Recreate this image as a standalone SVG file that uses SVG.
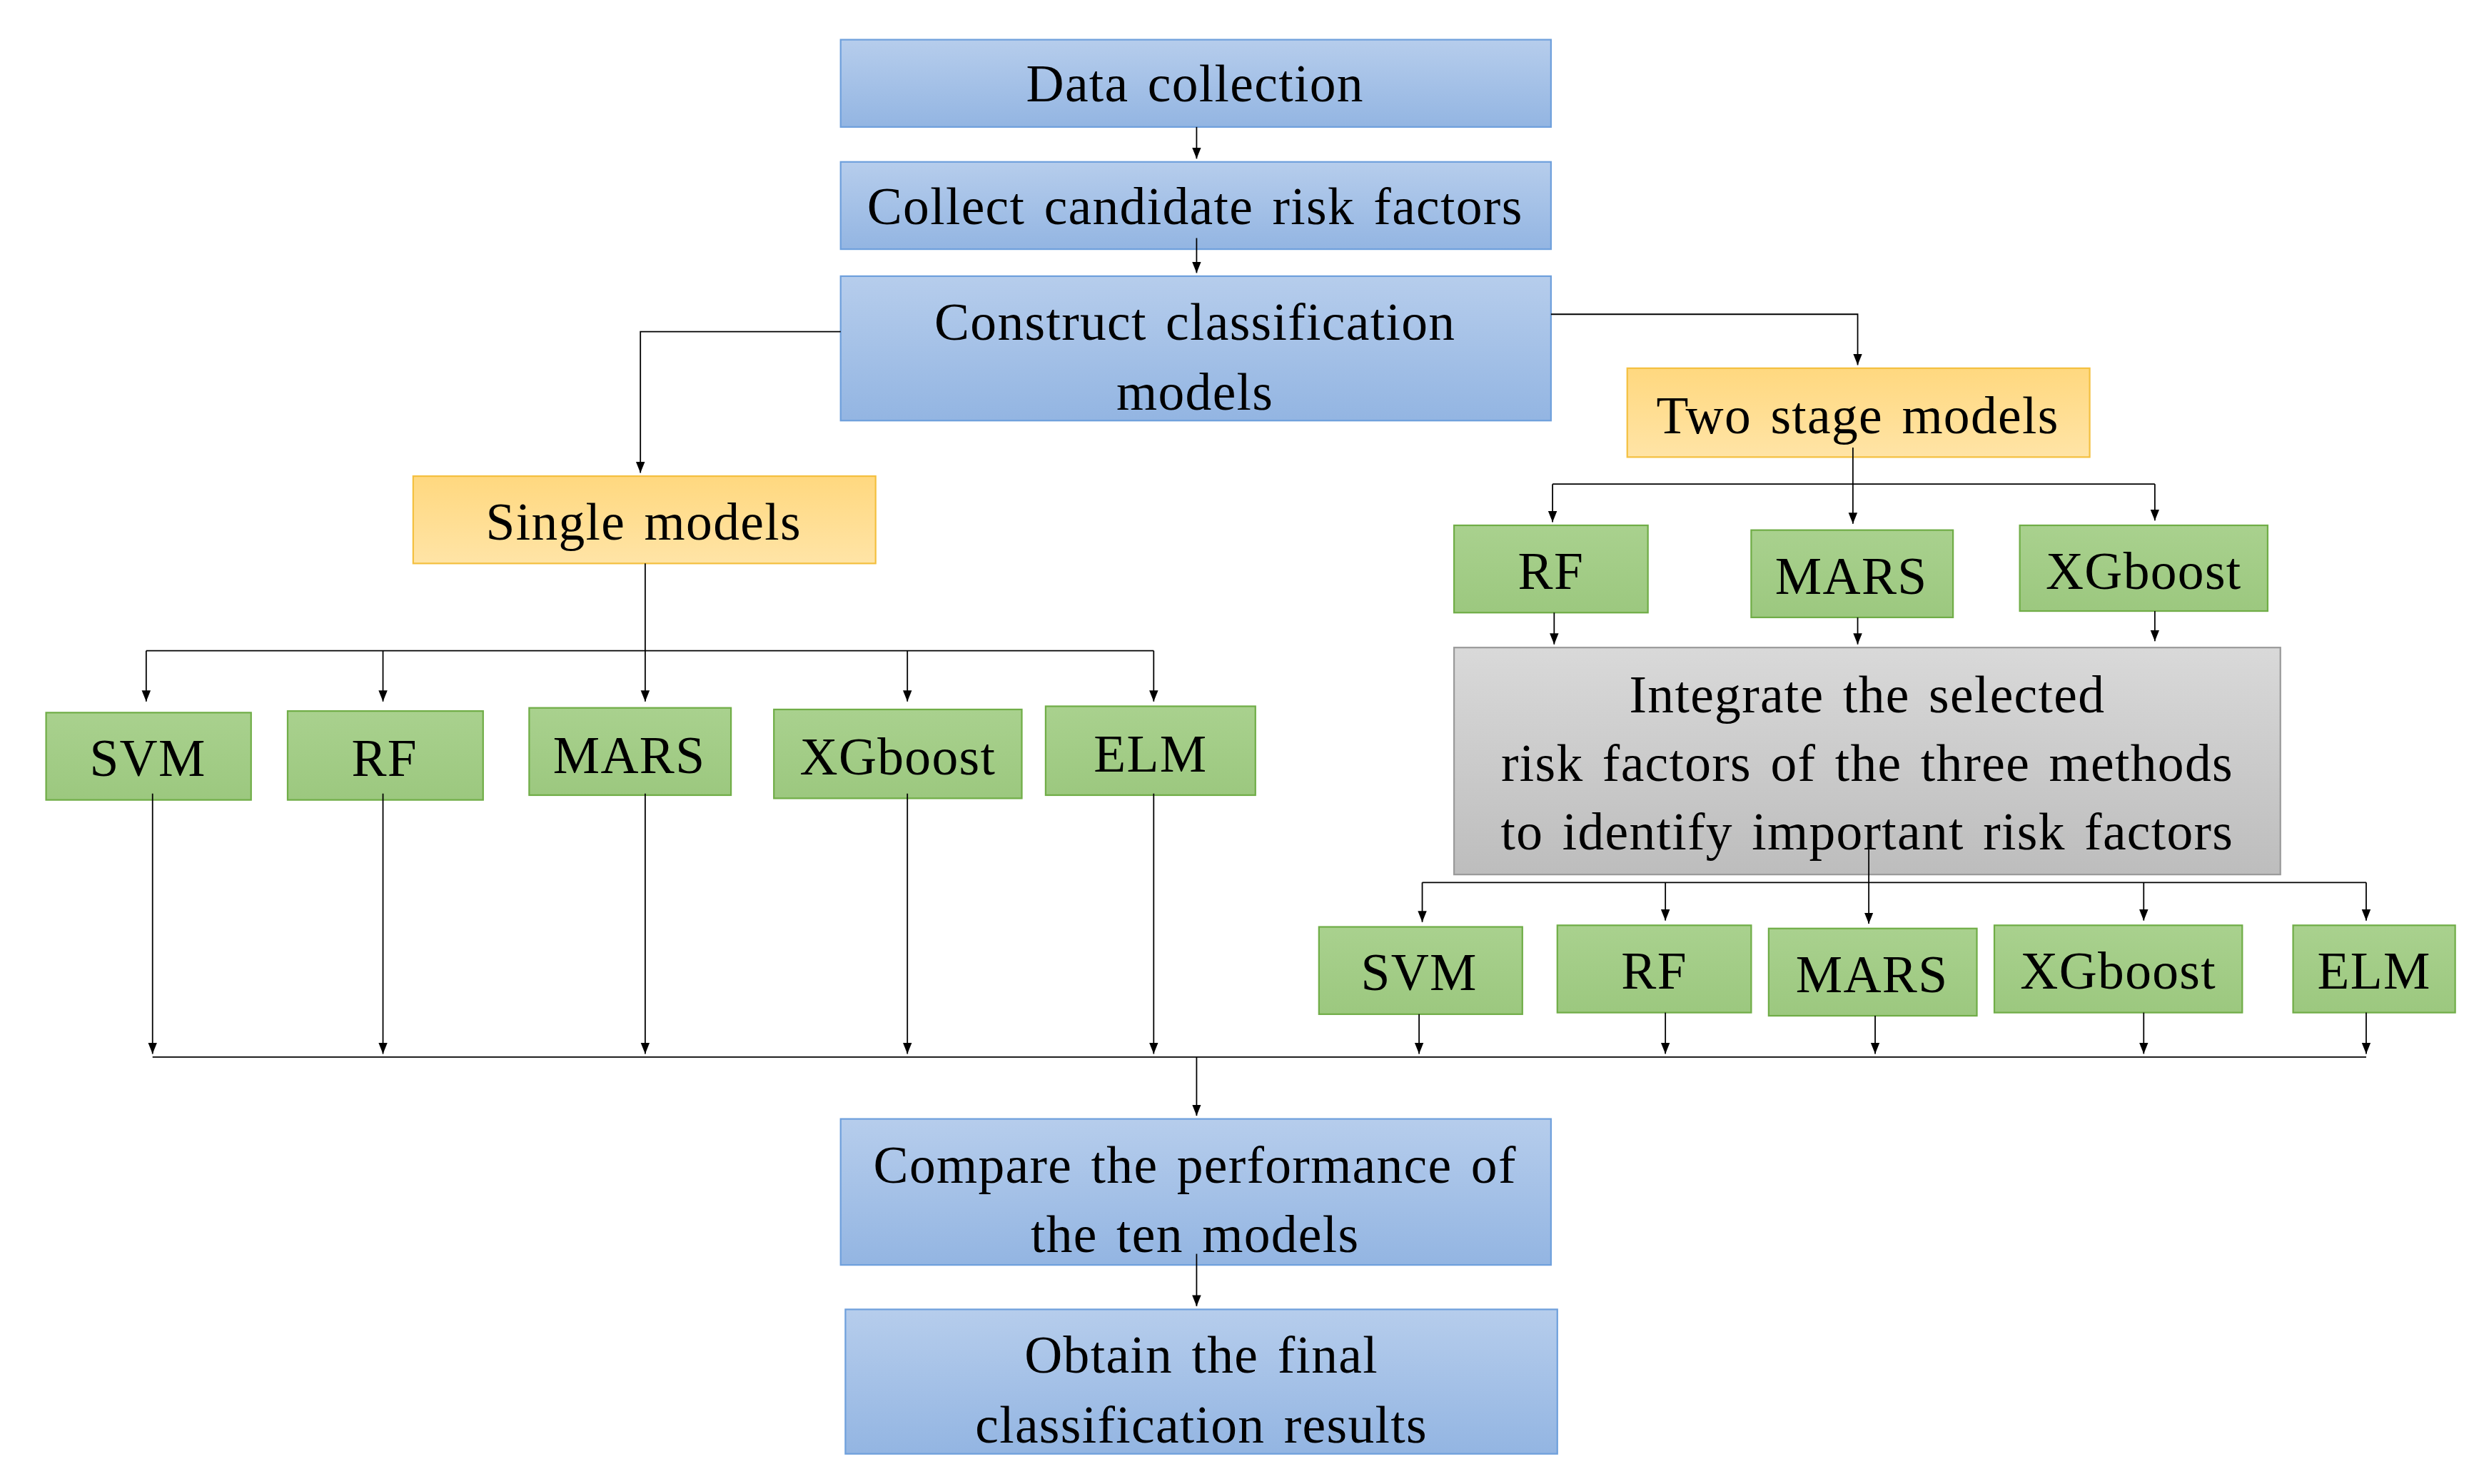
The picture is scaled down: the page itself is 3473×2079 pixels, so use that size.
<svg xmlns="http://www.w3.org/2000/svg" width="3473" height="2079" viewBox="0 0 3473 2079">
<defs>
<linearGradient id="gb" x1="0" y1="0" x2="0" y2="1"><stop offset="0" stop-color="#b6cdec"/><stop offset="1" stop-color="#93b5e2"/></linearGradient>
<linearGradient id="go" x1="0" y1="0" x2="0" y2="1"><stop offset="0" stop-color="#ffd87f"/><stop offset="1" stop-color="#ffe4a6"/></linearGradient>
<linearGradient id="gg" x1="0" y1="0" x2="0" y2="1"><stop offset="0" stop-color="#a9d18e"/><stop offset="1" stop-color="#9cc87f"/></linearGradient>
<linearGradient id="gy" x1="0" y1="0" x2="0" y2="1"><stop offset="0" stop-color="#d9d9d9"/><stop offset="1" stop-color="#bdbdbd"/></linearGradient>
<marker id="a" viewBox="0 0 10 10" refX="10" refY="5" markerWidth="7" markerHeight="7" orient="auto" markerUnits="userSpaceOnUse"><path d="M0,1L10,5L0,9z" fill="#000"/></marker>
</defs>
<style>
.b{fill:url(#gb);stroke:#6fa0dc;stroke-width:1}
.o{fill:url(#go);stroke:#f4c040;stroke-width:1}
.g{fill:url(#gg);stroke:#70ad47;stroke-width:1}
.y{fill:url(#gy);stroke:#9a9a9a;stroke-width:1}
text{font-family:"Liberation Serif","Times New Roman",serif;font-size:33px;letter-spacing:0.6px;word-spacing:3px;fill:#000;text-anchor:middle}
.c path{fill:none;stroke:#000;stroke-width:0.8;marker-end:url(#a)}
.c .n{marker-end:none}
</style>
<rect width="3473" height="2079" fill="#fff"/>
<g transform="scale(2.2263,2.2235)">
<g id="n1"><rect class="b" x="529" y="25" width="447" height="55"/><text x="752" y="64">Data collection</text></g>
<g id="n2"><rect class="b" x="529" y="102" width="447" height="55"/><text x="752" y="141">Collect candidate risk factors</text></g>
<g id="n3"><rect class="b" x="529" y="174" width="447" height="91"/><text x="752" y="214">Construct classification</text><text x="752" y="258">models</text></g>
<g id="n4"><rect class="o" x="1024" y="232" width="291" height="56"/><text x="1169" y="273">Two stage models</text></g>
<g id="n5"><rect class="o" x="260" y="300" width="291" height="55"/><text x="405" y="340">Single models</text></g>
<g id="s1"><rect class="g" x="29" y="449" width="129" height="55"/><text x="93" y="489">SVM</text></g>
<g id="s2"><rect class="g" x="181" y="448" width="123" height="56"/><text x="242" y="489">RF</text></g>
<g id="s3"><rect class="g" x="333" y="446" width="127" height="55"/><text x="396" y="487">MARS</text></g>
<g id="s4"><rect class="g" x="487" y="447" width="156" height="56"/><text x="565" y="488">XGboost</text></g>
<g id="s5"><rect class="g" x="658" y="445" width="132" height="56"/><text x="724" y="486">ELM</text></g>
<g id="t1"><rect class="g" x="915" y="331" width="122" height="55"/><text x="976" y="371">RF</text></g>
<g id="t2"><rect class="g" x="1102" y="334" width="127" height="55"/><text x="1165" y="374">MARS</text></g>
<g id="t3"><rect class="g" x="1271" y="331" width="156" height="54"/><text x="1349" y="371">XGboost</text></g>
<g id="ig"><rect class="y" x="915" y="408" width="520" height="143"/><text x="1175" y="449">Integrate the selected</text><text x="1175" y="492">risk factors of the three methods</text><text x="1175" y="535">to identify important risk factors</text></g>
<g id="u1"><rect class="g" x="830" y="584" width="128" height="55"/><text x="893" y="624">SVM</text></g>
<g id="u2"><rect class="g" x="980" y="583" width="122" height="55"/><text x="1041" y="623">RF</text></g>
<g id="u3"><rect class="g" x="1113" y="585" width="131" height="55"/><text x="1178" y="625">MARS</text></g>
<g id="u4"><rect class="g" x="1255" y="583" width="156" height="55"/><text x="1333" y="623">XGboost</text></g>
<g id="u5"><rect class="g" x="1443" y="583" width="102" height="55"/><text x="1494" y="623">ELM</text></g>
<g id="n6"><rect class="b" x="529" y="705" width="447" height="92"/><text x="752" y="745">Compare the performance of</text><text x="752" y="789">the ten models</text></g>
<g id="n7"><rect class="b" x="532" y="825" width="448" height="91"/><text x="756" y="865">Obtain the final</text><text x="756" y="909">classification results</text></g>
<g class="c" id="connectors">
<path d="M753,80V100"/><path d="M753,150V172"/>
<path d="M529,209H403V298"/><path d="M976,198H1169V230"/>
<path class="n" d="M406,355V410"/><path class="n" d="M92,410H726"/>
<path d="M92,410V442"/><path d="M241,410V442"/><path d="M406,410V442"/><path d="M571,410V442"/><path d="M726,410V442"/>
<path class="n" d="M1166,282V305"/><path class="n" d="M977,305H1356"/>
<path d="M977,305V329"/><path d="M1166,305V330"/><path d="M1356,305V328"/>
<path d="M978,386V406"/><path d="M1169,389V406"/><path d="M1356,385V404"/>
<path class="n" d="M895,556H1489"/>
<path d="M895,556V581"/><path d="M1048,556V580"/><path d="M1176,520V582"/><path d="M1349,556V580"/><path d="M1489,556V580"/>
<path d="M96,500V664"/><path d="M241,500V664"/><path d="M406,500V664"/><path d="M571,500V664"/><path d="M726,500V664"/>
<path d="M893,639V664"/><path d="M1048,638V664"/><path d="M1180,640V664"/><path d="M1349,638V664"/><path d="M1489,638V664"/>
<path class="n" d="M96,666H1489"/>
<path d="M753,666V703"/><path d="M753,790V823"/>
</g>
</g>
</svg>
